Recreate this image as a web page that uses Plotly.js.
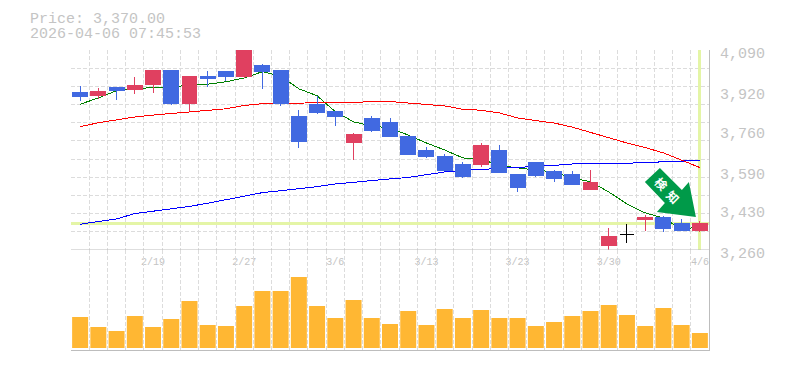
<!DOCTYPE html>
<html>
<head>
<meta charset="utf-8">
<script src="https://cdn.plot.ly/plotly-3.0.1.min.js"></script>
<style>
html,body{margin:0;padding:0;background:#fff}
#chart{width:785px;height:370px}
.scatterlayer .js-line{shape-rendering:crispEdges}
.boxlayer path{shape-rendering:crispEdges}
</style>
</head>
<body>
<div id="chart"></div>
<script>
var indexes = Array.from({length:35}, function(_, i){return i;});
var open_  = [3912,3903,3936,3928,3945,4003,3866,3978,3999,3982,4024,4003,3812,3862,3833,3708,3804,3791,3733,3671,3650,3613,3613,3671,3575,3625,3584,3575,3513,3277,3325,3385,3393,3372,3343];
var high_  = [3941,3932,3936,3978,4007,4003,3982,4003,3999,4095,4032,4003,3841,3899,3833,3746,3816,3808,3733,3687,3658,3625,3704,3696,3575,3625,3592,3588,3592,3351,3368,3405,3401,3389,3380];
var low_   = [3880,3885,3882,3907,3912,3862,3837,3936,3961,3974,3929,3858,3683,3824,3775,3634,3750,3729,3658,3642,3588,3559,3604,3580,3501,3563,3542,3530,3509,3260,3289,3339,3335,3339,3335];
var close_ = [3899,3916,3924,3941,4003,3866,3978,3970,3978,4095,3999,3866,3712,3829,3816,3741,3754,3729,3658,3646,3588,3563,3692,3580,3521,3571,3555,3530,3542,3318,3325,3393,3351,3343,3370];
var maShort = [3865,3891,3921,3928,3935,3935,3945,3948,3958,3974,4000,3982,3929,3900,3834,3792,3775,3766,3737,3704,3675,3642,3638,3610,3600,3592,3584,3559,3543,3501,3451,3414,3393,3346,3356];
var maMid   = [3772,3788,3800,3812,3820,3827,3831,3838,3846,3860,3867,3869,3869,3872,3872,3872,3876,3876,3870,3865,3858,3844,3840,3829,3808,3797,3787,3770,3748,3725,3704,3685,3663,3633,3602];
var maLong  = [3367,3377,3389,3411,3421,3430,3441,3454,3469,3484,3498,3506,3514,3523,3534,3542,3548,3555,3561,3571,3584,3590,3594,3598,3602,3604,3611,3617,3620,3620,3620,3623,3625,3629,3632];
var volume  = [31,21,17,32,21,29,47,23,22,42,57,57,71,42,30,48,30,24,37,23,39,30,38,30,30,22,26,32,37,43,33,22,40,23,15];
var dojiIndex = 30;
var currentPrice = 3370;
var dateIdx = [4,9,14,19,24,29,34];
var dateLabels = ['2/19','2/27','3/6','3/13','3/23','3/30','4/6'];
var priceTicks = [3260,3430,3590,3760,3920,4090];
var priceLabels = ['3,260','3,430','3,590','3,760','3,920','4,090'];
var priceMin = 3260, priceMax = 4090, gridCount = 11;
var headerLines = ['Price: 3,370.00','2026-04-06 07:45:53'];
var signalGlyphs = ['\u691C','\u77E5'];
var signalIdx = [31.92,32.52];
var signalPrice = [3538,3480];

var UP='#e04060', DOWN='#4169e1', HL='#e4f5a6', GRID='#dcdcdc', AXIS='#bdbdbd', TXT='#c4c4c4';
var MONO='"Liberation Mono","DejaVu Sans Mono",monospace';

function without(arr, skip){return arr.map(function(v,i){return i===skip?null:v;});}
function only(arr, keep){return [arr[keep]];}

var traces = [
 {type:'scatter',mode:'lines',x:[-0.5,34.5],y:[currentPrice,currentPrice],line:{color:HL,width:3},xaxis:'x',yaxis:'y',hoverinfo:'skip'},
 {type:'scatter',mode:'lines',x:[34,34],y:[priceMin,priceMax],line:{color:HL,width:3},xaxis:'x',yaxis:'y',hoverinfo:'skip'},
 {type:'scatter',mode:'lines',x:indexes,y:maShort,line:{color:'#008000',width:1},xaxis:'x',yaxis:'y'},
 {type:'scatter',mode:'lines',x:indexes,y:maMid,line:{color:'#ff0000',width:1},xaxis:'x',yaxis:'y'},
 {type:'scatter',mode:'lines',x:indexes,y:maLong,line:{color:'#0000ff',width:1},xaxis:'x',yaxis:'y'},
 {type:'candlestick',x:indexes,open:without(open_,dojiIndex),high:without(high_,dojiIndex),low:without(low_,dojiIndex),close:without(close_,dojiIndex),
  increasing:{line:{color:UP,width:1},fillcolor:UP},decreasing:{line:{color:DOWN,width:1},fillcolor:DOWN},whiskerwidth:0,xaxis:'x',yaxis:'y3'},
 {type:'candlestick',x:[dojiIndex],open:only(open_,dojiIndex),high:only(high_,dojiIndex),low:only(low_,dojiIndex),close:only(close_,dojiIndex),
  increasing:{line:{color:'#000',width:1},fillcolor:'#000'},decreasing:{line:{color:'#000',width:1},fillcolor:'#000'},whiskerwidth:0,xaxis:'x',yaxis:'y3'},
 {type:'bar',x:indexes,y:volume,marker:{color:'#ffb733',line:{width:0}},width:0.877,xaxis:'x2',yaxis:'y2'}
];

var W=785,H=370,L=70.9,R=709.1,T=50,B=350,MID=250;
var gridDash='4px,2px';
var layout = {
 width:W,height:H,showlegend:false,paper_bgcolor:'#fff',plot_bgcolor:'#fff',
 margin:{l:L,r:W-R,t:T,b:H-B,pad:0},
 font:{family:MONO,color:TXT,size:15},
 dragmode:false,boxgap:0.18,boxgroupgap:0,boxmode:'overlay',
 xaxis:{domain:[0,1],anchor:'y',range:[-0.5,34.5],tickmode:'array',tickvals:dateIdx,ticktext:dateLabels,ticks:'',showgrid:false,zeroline:false,
   tickfont:{family:MONO,size:10,color:TXT},ticklabelstandoff:4,rangeslider:{visible:false},fixedrange:true,
   minor:{tick0:-0.5,dtick:1,showgrid:true,gridcolor:GRID,griddash:gridDash,gridwidth:1,ticks:''}},
 xaxis2:{domain:[0,1],anchor:'y2',range:[-0.5,34.5],showticklabels:false,ticks:'',tick0:-0.5,dtick:1,showgrid:true,gridcolor:GRID,griddash:gridDash,gridwidth:1,zeroline:false,showline:true,linecolor:AXIS,linewidth:1,fixedrange:true},
 yaxis:{domain:[(B-MID)/(B-T),1],anchor:'x',range:[priceMin,priceMax],tick0:priceMin,dtick:(priceMax-priceMin)/gridCount,tickmode:'linear',showticklabels:false,ticks:'',showgrid:true,gridcolor:GRID,griddash:gridDash,gridwidth:1,zeroline:false,fixedrange:true},
 yaxis3:{domain:[(B-MID)/(B-T),1],anchor:'x',overlaying:'y',side:'right',range:[priceMin,priceMax],tickmode:'array',tickvals:priceTicks,ticktext:priceLabels,ticks:'',showgrid:false,zeroline:false,showline:true,linecolor:AXIS,linewidth:1,
   tickfont:{family:MONO,size:15,color:TXT},ticklabelstandoff:7,ticklabelshift:3,fixedrange:true},
 yaxis2:{domain:[0,(B-MID)/(B-T)],anchor:'x2',side:'right',range:[-2,98],showticklabels:false,ticks:'',showgrid:false,zeroline:false,showline:true,linecolor:AXIS,linewidth:1,fixedrange:true},
 shapes:[
  {type:'line',xref:'paper',yref:'y',x0:0,x1:1,y0:priceMin,y1:priceMin,line:{color:AXIS,width:1}},
  {type:'path',layer:'above',xref:'x',yref:'y',xsizemode:'pixel',ysizemode:'pixel',xanchor:34,yanchor:currentPrice,
   path:'M -40 55.5 L -55 41.5 L -35 20.5 L -43 11.5 L -4 6.5 L -11 41.5 L -18 33.5 Z',
   fillcolor:'#009a49',line:{width:0}}
 ],
 annotations:[
  {xref:'paper',yref:'paper',x:(28-L)/(R-L),y:(B-10)/(B-T),xanchor:'left',yanchor:'top',align:'left',showarrow:false,height:15,
   text:headerLines[0],font:{family:MONO,size:15,color:TXT}},
  {xref:'paper',yref:'paper',x:(28-L)/(R-L),y:(B-25)/(B-T),xanchor:'left',yanchor:'top',align:'left',showarrow:false,height:15,
   text:headerLines[1],font:{family:MONO,size:15,color:TXT}},
  {xref:'x',yref:'y',x:signalIdx[0],y:signalPrice[0],text:'<b>'+signalGlyphs[0]+'</b>',textangle:45,showarrow:false,xanchor:'center',yanchor:'middle',font:{family:'"Noto Sans CJK JP"',size:12,color:'#fff'}},
  {xref:'x',yref:'y',x:signalIdx[1],y:signalPrice[1],text:'<b>'+signalGlyphs[1]+'</b>',textangle:45,showarrow:false,xanchor:'center',yanchor:'middle',font:{family:'"Noto Sans CJK JP"',size:12,color:'#fff'}}
 ]
};
Plotly.newPlot('chart',traces,layout,{displayModeBar:false,staticPlot:true});
</script>
</body>
</html>
